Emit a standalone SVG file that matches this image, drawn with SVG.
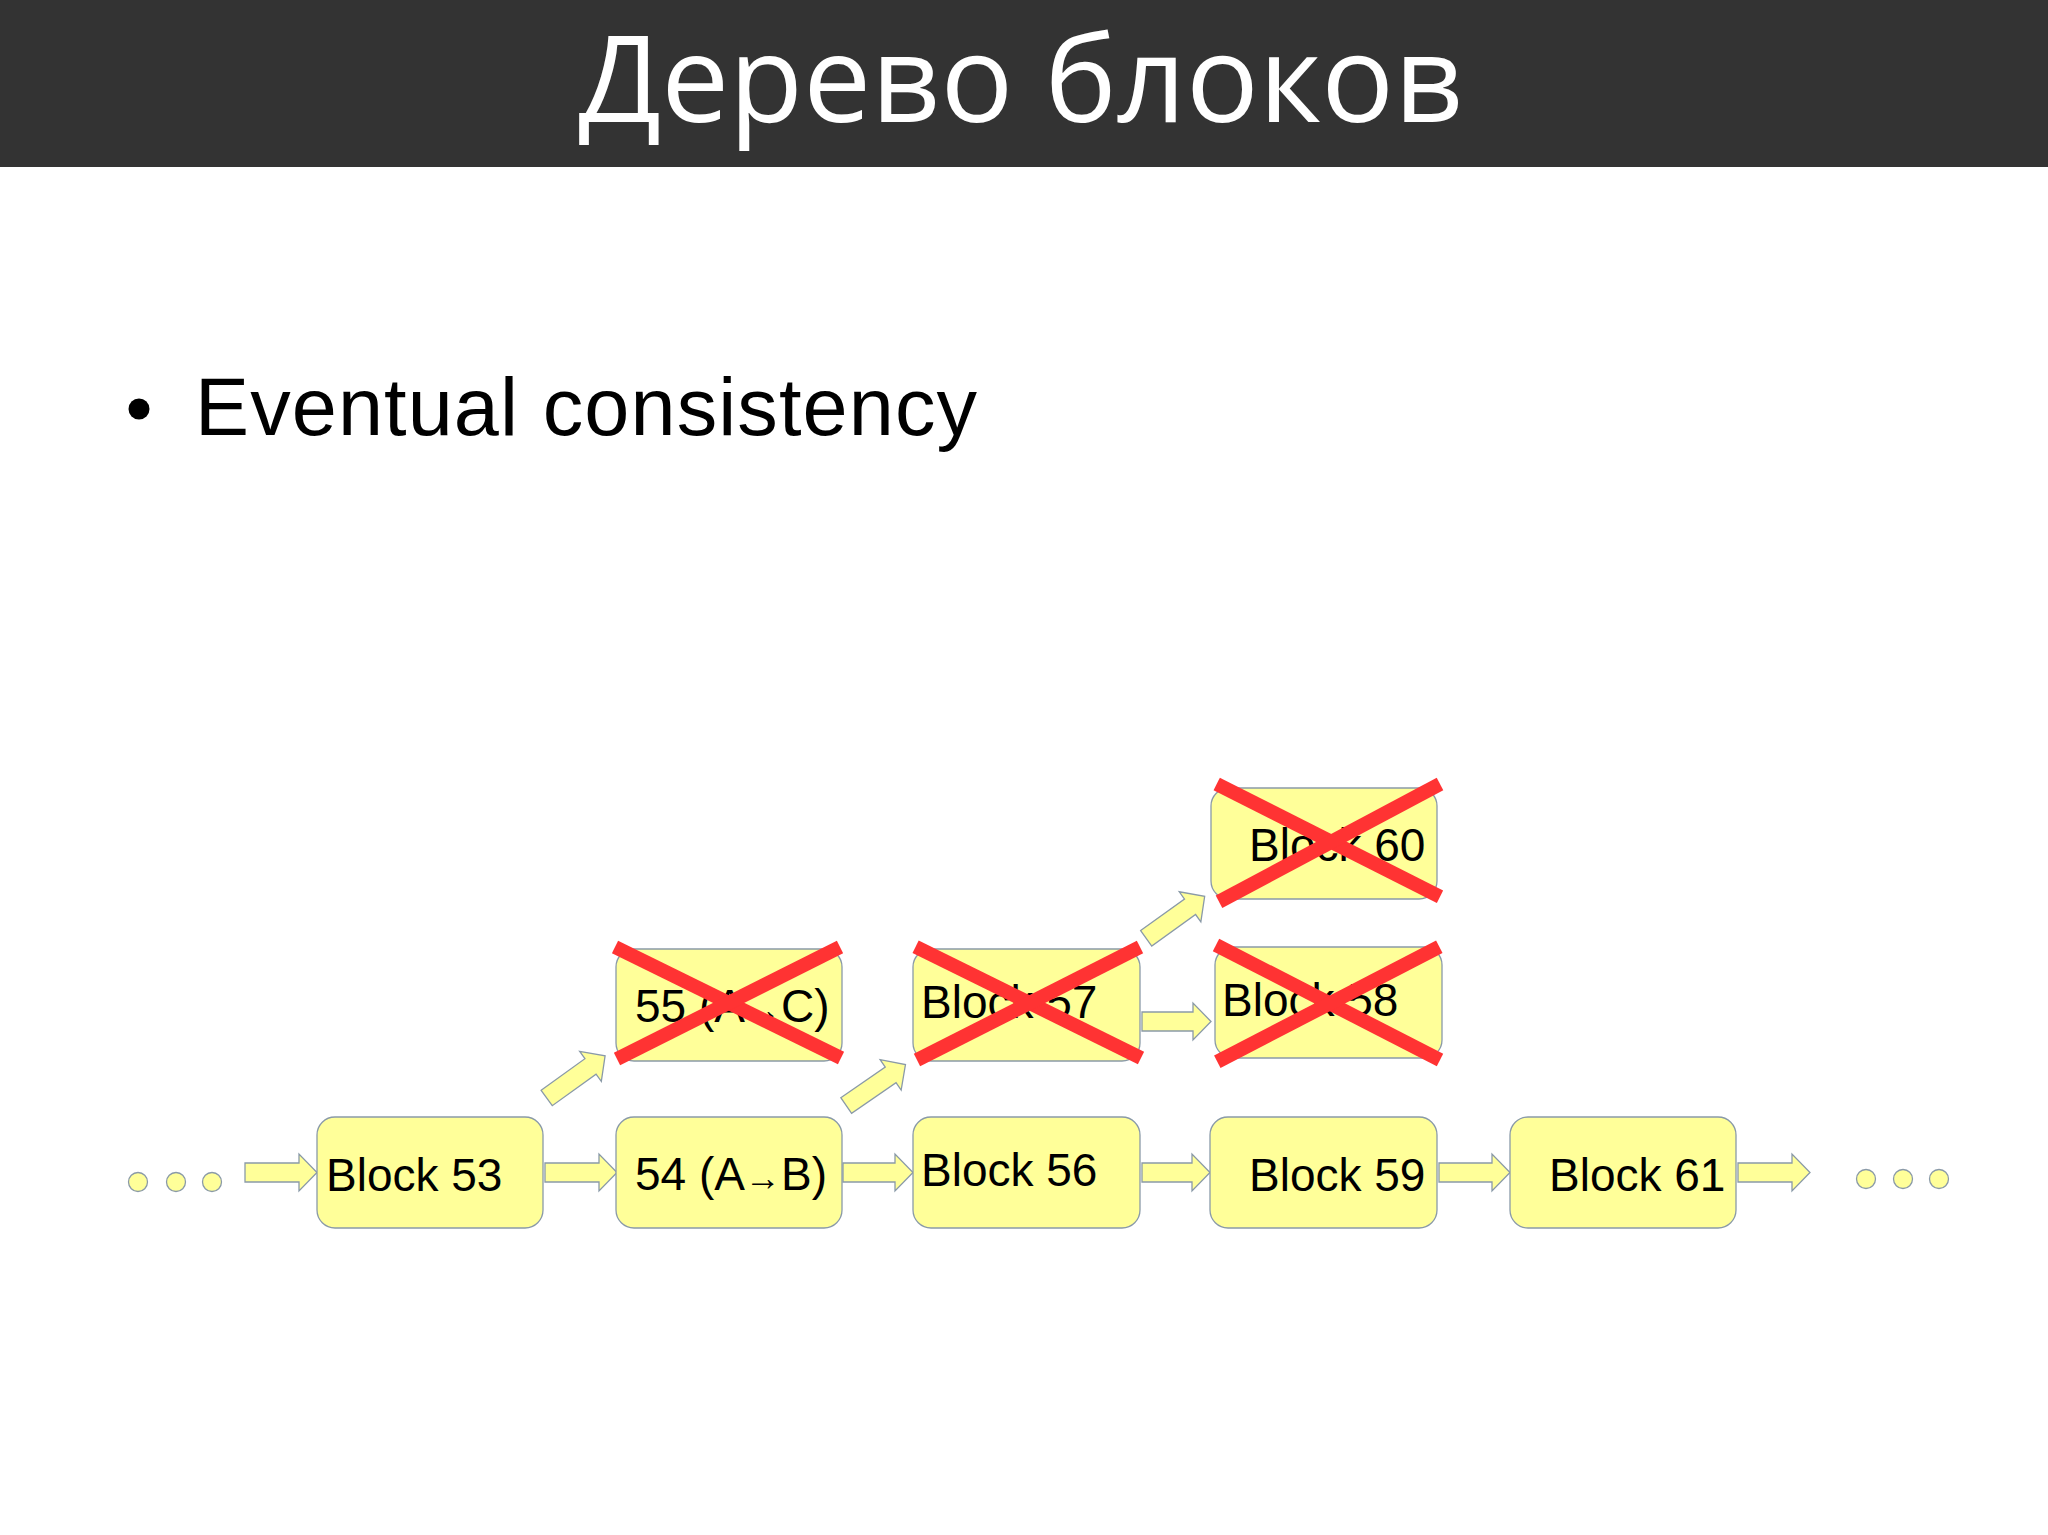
<svg xmlns="http://www.w3.org/2000/svg" width="2048" height="1535" viewBox="0 0 2048 1535">
  <style>
    .blk { fill: #ffff99; stroke: #8a9aa8; stroke-width: 1.3; }
    .arr { fill: #ffff99; stroke: #8a9aa8; stroke-width: 1.3; stroke-linejoin: miter; }
    .lbl { font-family: "Liberation Sans", Arial, sans-serif; font-size: 46px; fill: #000000; }
    .sm { font-size: 36px; }
    .cross { stroke: #ff3333; stroke-width: 14; stroke-linecap: butt; fill: none; }
    .dot { fill: #ffff99; stroke: #8a9aa8; stroke-width: 1.3; }
  </style>
  <defs>
    <polygon id="diagArrow" points="0,-9.5 54,-9.5 54,-18.5 72,0 54,18.5 54,9.5 0,9.5"/>
  </defs>
  <rect x="0" y="0" width="2048" height="1535" fill="#ffffff"/>
  <g id="header">
    <rect x="0" y="0" width="2048" height="167" fill="#333333"/>
    <text x="1021" y="122" text-anchor="middle" font-family="'Open Sans', 'DejaVu Sans', sans-serif" font-size="121" fill="#ffffff">Дерево блоков</text>
  </g>
  <g id="bullet">
    <circle cx="139" cy="409" r="10.5" fill="#000000"/>
    <text x="195" y="435" font-family="'Liberation Sans', Arial, sans-serif" font-size="81" textLength="782" lengthAdjust="spacing" fill="#000000">Eventual consistency</text>
  </g>

  <g id="connectors">
    <polygon class="arr" points="245,1163 299,1163 299,1154 317,1172.5 299,1191 299,1182 245,1182"/>
    <polygon class="arr" points="545,1163 599,1163 599,1154 617,1172.5 599,1191 599,1182 545,1182"/>
    <polygon class="arr" points="843,1163 895,1163 895,1154 913,1172.5 895,1191 895,1182 843,1182"/>
    <polygon class="arr" points="1142,1163 1192,1163 1192,1154 1210,1172.5 1192,1191 1192,1182 1142,1182"/>
    <polygon class="arr" points="1439,1163 1492,1163 1492,1154 1510,1172.5 1492,1191 1492,1182 1439,1182"/>
    <polygon class="arr" points="1738,1163 1792,1163 1792,1154 1810,1172.5 1792,1191 1792,1182 1738,1182"/>
    <polygon class="arr" points="1142,1012 1193,1012 1193,1003 1211,1021.5 1193,1040 1193,1031 1142,1031"/>
    <use href="#diagArrow" class="arr" transform="translate(546.7,1098) rotate(-35.8)"/>
    <use href="#diagArrow" class="arr" transform="translate(846.2,1105.5) rotate(-34.6)"/>
    <use href="#diagArrow" class="arr" transform="translate(1146.2,938.3) rotate(-35.7)"/>
  </g>

  <g id="dots-left">
    <circle class="dot" cx="138" cy="1182" r="9.5"/>
    <circle class="dot" cx="176" cy="1182" r="9.5"/>
    <circle class="dot" cx="212" cy="1182" r="9.5"/>
  </g>
  <g id="dots-right">
    <circle class="dot" cx="1866" cy="1179" r="9.5"/>
    <circle class="dot" cx="1903" cy="1179" r="9.5"/>
    <circle class="dot" cx="1939" cy="1179" r="9.5"/>
  </g>

  <g id="block53">
    <rect class="blk" x="317" y="1117" width="226" height="111" rx="18"/>
    <text class="lbl" x="326" y="1191">Block 53</text>
  </g>
  <g id="block54">
    <rect class="blk" x="616" y="1117" width="226" height="111" rx="18"/>
    <text class="lbl" x="635" y="1190">54 (A<tspan class="sm">→</tspan>B)</text>
  </g>
  <g id="block56">
    <rect class="blk" x="913" y="1117" width="227" height="111" rx="18"/>
    <text class="lbl" x="921" y="1186">Block 56</text>
  </g>
  <g id="block59">
    <rect class="blk" x="1210" y="1117" width="227" height="111" rx="18"/>
    <text class="lbl" x="1249" y="1191">Block 59</text>
  </g>
  <g id="block61">
    <rect class="blk" x="1510" y="1117" width="226" height="111" rx="18"/>
    <text class="lbl" x="1549" y="1191">Block 61</text>
  </g>
  <g id="block55">
    <rect class="blk" x="616" y="949" width="226" height="112" rx="18"/>
    <text class="lbl" x="635" y="1022">55 (A<tspan class="sm">→</tspan>C)</text>
    <line class="cross" x1="615" y1="947" x2="841" y2="1058"/>
    <line class="cross" x1="617" y1="1059" x2="840" y2="947"/>
  </g>
  <g id="block57">
    <rect class="blk" x="913" y="949" width="227" height="112" rx="18"/>
    <text class="lbl" x="921" y="1018">Block 57</text>
    <line class="cross" x1="915.6" y1="946.7" x2="1141" y2="1058"/>
    <line class="cross" x1="917" y1="1060" x2="1140" y2="947"/>
  </g>
  <g id="block60">
    <rect class="blk" x="1211" y="788" width="226" height="111" rx="18"/>
    <text class="lbl" x="1249" y="861">Block 60</text>
    <line class="cross" x1="1216.7" y1="784" x2="1440" y2="896.7"/>
    <line class="cross" x1="1219" y1="901.7" x2="1440" y2="784"/>
  </g>
  <g id="block58">
    <rect class="blk" x="1215" y="947" width="227" height="111" rx="18"/>
    <text class="lbl" x="1222" y="1016">Block 58</text>
    <line class="cross" x1="1216" y1="945" x2="1440" y2="1060"/>
    <line class="cross" x1="1217.3" y1="1061.7" x2="1439.3" y2="946.7"/>
  </g>
</svg>
